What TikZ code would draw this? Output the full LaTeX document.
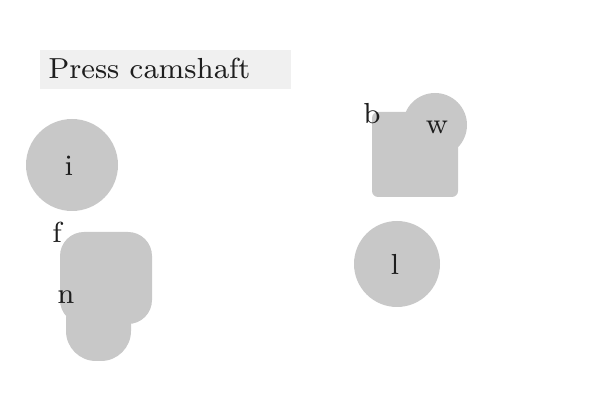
\documentclass[tikz,border=0pt]{standalone}
\definecolor{shapegray}{RGB}{200,200,200}
\definecolor{bargray}{RGB}{240,240,240}
\definecolor{inkgray}{RGB}{30,30,30}
\font\diagfont=cmr8 at 14.5pt
\begin{document}
\begin{tikzpicture}[x=0.5pt,y=-0.5pt,
  shapefill/.style={fill=shapegray, draw=none},
  txt/.style={font=\diagfont, inner sep=0pt, text=inkgray}]
\useasboundingbox (0,0) rectangle (600,400);
% title bar
\fill[bargray] (40,50) rectangle (291,89);
\node[txt, anchor=base west] (title) at (48,79) {Press camshaft};
% left group
\fill[shapefill] (72,165) circle (46);
\node[txt] (i) at (69,166) {i};
\fill[shapefill, rounded corners=15] (66,290) rectangle (131,361);
\fill[shapefill, rounded corners=12] (60,232) rectangle (152,324);
\node[txt] (f) at (57,232) {f};
\node[txt] (n) at (66,297) {n};
% right group
\fill[shapefill, rounded corners=3] (372,112) rectangle (458,197);
\fill[shapefill] (435,125) circle (32);
\node[txt] (b) at (372,113) {b};
\node[txt] (w) at (437,127) {w};
\fill[shapefill] (397,264) circle (43);
\node[txt] (l) at (395,264) {l};
\end{tikzpicture}
\end{document}
